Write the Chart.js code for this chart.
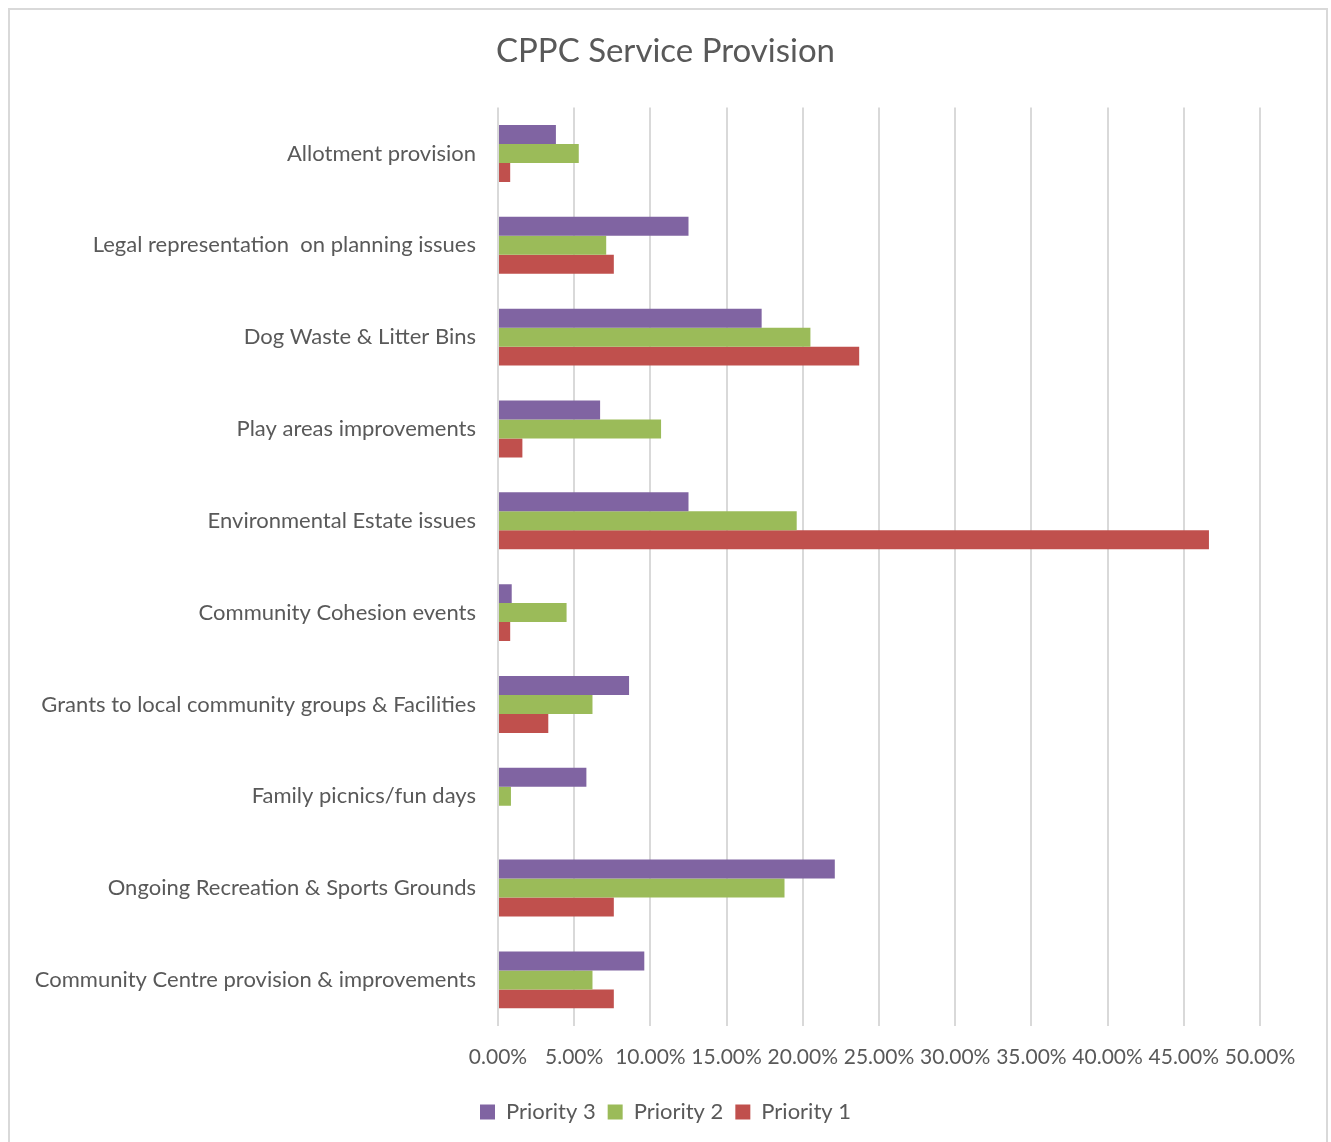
<!DOCTYPE html>
<html>
<head>
<meta charset="utf-8">
<script src="https://cdn.jsdelivr.net/npm/chart.js@4"></script>
<style>
    body { margin: 0; background: #fff; }
    #frame { position: absolute; left: 8px; top: 8px; width: 1316px; height: 1150px; border: 2px solid #d9d9d9; }
    #wrap { position: absolute; left: 0; top: 0; width: 1331px; height: 1142px; }
</style>
</head>
<body>
<div id="frame"></div>
<div id="wrap"><canvas id="chart"></canvas></div>
<script>
const categories = [
    'Allotment provision',
    'Legal representation  on planning issues',
    'Dog Waste & Litter Bins',
    'Play areas improvements',
    'Environmental Estate issues',
    'Community Cohesion events',
    'Grants to local community groups & Facilities',
    'Family picnics/fun days',
    'Ongoing Recreation & Sports Grounds',
    'Community Centre provision & improvements'
];
const priority3 = [3.8, 12.5, 17.3, 6.7, 12.5, 0.9, 8.6, 5.8, 22.1, 9.6];
const priority2 = [5.3, 7.1, 20.5, 10.7, 19.6, 4.5, 6.2, 0.85, 18.8, 6.2];
const priority1 = [0.8, 7.6, 23.7, 1.6, 46.65, 0.8, 3.3, 0, 7.6, 7.6];

const textColor = '#595959';
const fontFamily = 'Lato, "Open Sans", sans-serif';

const ctx = document.getElementById('chart').getContext('2d');
new Chart(ctx, {
    type: 'bar',
    data: {
        labels: categories,
        datasets: [
            { label: 'Priority 3', data: priority3, backgroundColor: '#8064a2' },
            { label: 'Priority 2', data: priority2, backgroundColor: '#9bbb59' },
            { label: 'Priority 1', data: priority1, backgroundColor: '#c0504d' }
        ]
    },
    options: {
        indexAxis: 'y',
        responsive: true,
        maintainAspectRatio: false,
        animation: false,
        datasets: {
            bar: { barPercentage: 1, categoryPercentage: 0.62 }
        },
        layout: { padding: { top: 18, right: 0, bottom: 9, left: 0 } },
        plugins: {
            title: {
                display: true,
                text: 'CPPC Service Provision',
                color: textColor,
                font: { family: fontFamily, size: 33, weight: 'normal' },
                padding: { top: 14, bottom: 36 }
            },
            legend: {
                position: 'bottom',
                labels: {
                    color: textColor,
                    font: { family: fontFamily, size: 22 },
                    boxWidth: 15,
                    boxHeight: 15,
                    padding: 12
                }
            },
            tooltip: { enabled: false }
        },
        scales: {
            x: {
                min: 0,
                max: 50,
                ticks: {
                    stepSize: 5,
                    color: textColor,
                    font: { family: fontFamily, size: 21 },
                    padding: 19,
                    maxRotation: 0,
                    callback: value => value.toFixed(2) + '%'
                },
                grid: { color: '#d9d9d9', lineWidth: 2, drawTicks: false },
                border: { display: false }
            },
            y: {
                ticks: {
                    color: textColor,
                    font: { family: fontFamily, size: 22 },
                    padding: 22
                },
                grid: { display: false, drawTicks: false },
                border: { display: false },
                afterFit: scale => { scale.width = 498; }
            },
            // empty right-hand axis: keeps the plot ending at 50% while title and legend stay centred on the page
            y2: {
                position: 'right',
                ticks: { display: false },
                grid: { display: false, drawTicks: false },
                border: { display: false },
                afterFit: scale => { scale.width = 71; }
            }
        }
    }
});
</script>
</body>
</html>
